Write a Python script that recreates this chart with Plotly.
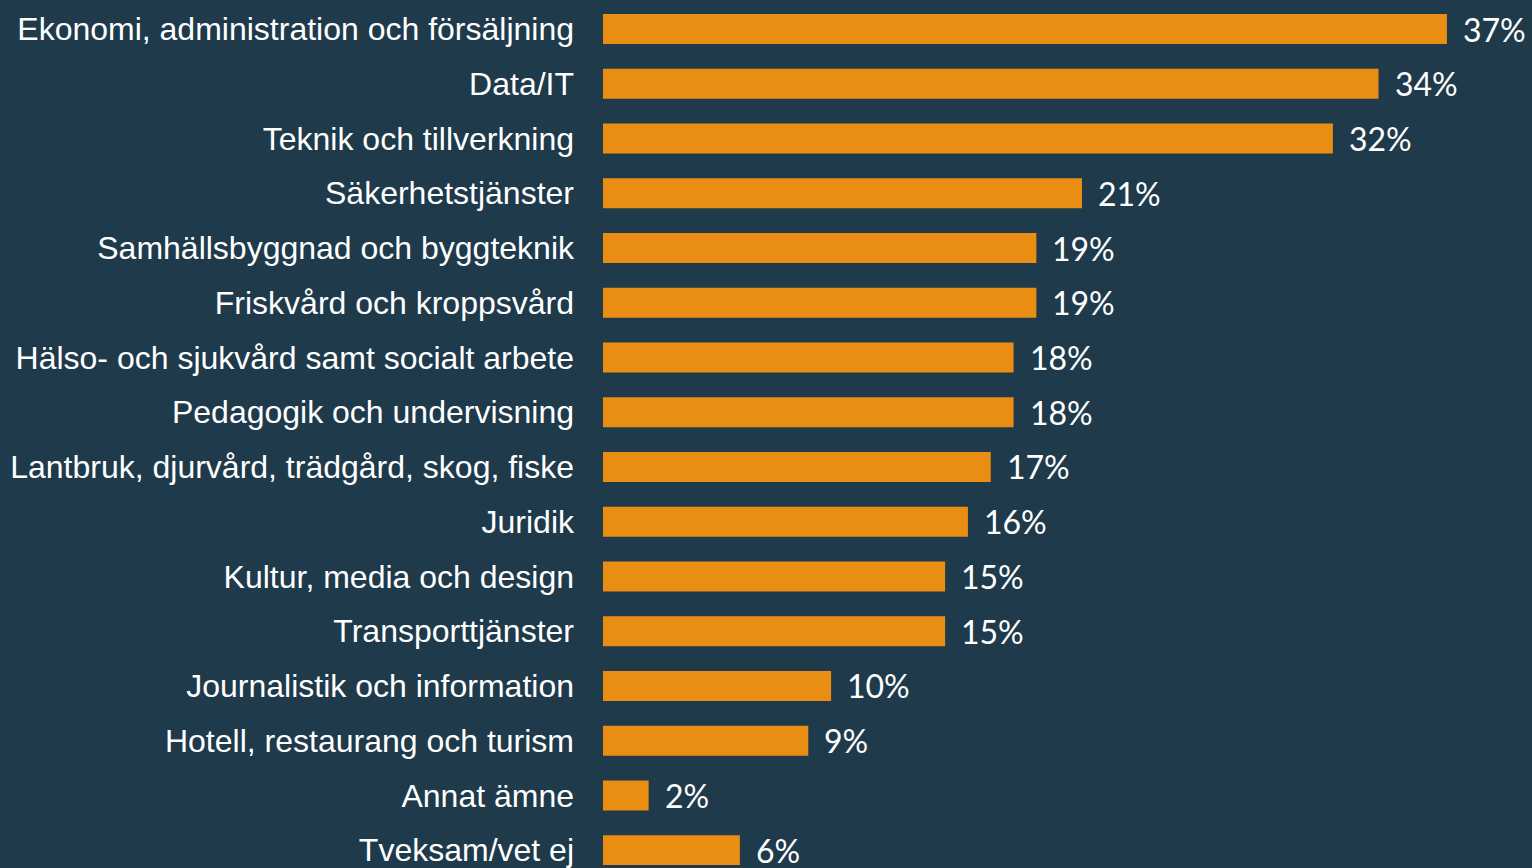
import plotly.graph_objects as go

categories = [
    "Ekonomi, administration och försäljning",
    "Data/IT",
    "Teknik och tillverkning",
    "Säkerhetstjänster",
    "Samhällsbyggnad och byggteknik",
    "Friskvård och kroppsvård",
    "Hälso- och sjukvård samt socialt arbete",
    "Pedagogik och undervisning",
    "Lantbruk, djurvård, trädgård, skog, fiske",
    "Juridik",
    "Kultur, media och design",
    "Transporttjänster",
    "Journalistik och information",
    "Hotell, restaurang och turism",
    "Annat ämne",
    "Tveksam/vet ej",
]
values = [37, 34, 32, 21, 19, 19, 18, 18, 17, 16, 15, 15, 10, 9, 2, 6]
labels = [f"{v}%" for v in values]

BG = "#1e3a4b"
BAR = "#ea8e13"

fig = go.Figure(go.Bar(
    x=values,
    y=categories,
    orientation="h",
    marker=dict(color=BAR, line=dict(width=0)),
    width=0.55,
    hoverinfo="skip",
))

for c, v, t in zip(categories, values, labels):
    fig.add_annotation(
        x=v, y=c, text=t, showarrow=False,
        xanchor="left", yanchor="middle", xshift=14,
        font=dict(family="Lato", size=32, color="white", weight=400),
    )

fig.update_layout(
    width=1532, height=868,
    paper_bgcolor=BG, plot_bgcolor=BG,
    margin=dict(l=603, r=0, t=0, b=0),
    showlegend=False,
    bargap=0.45,
)
fig.update_xaxes(range=[0, 40.73], visible=False, showgrid=False, zeroline=False)
fig.update_yaxes(
    categoryorder="array", categoryarray=categories,
    range=[15.27, -0.53], autorange=False,
    showgrid=False, zeroline=False, showline=False, ticks="",
    ticklabelstandoff=28,
    tickfont=dict(family="Liberation Sans, Arial", size=32, color="white"),
)

fig.write_html(
    "out.html",
    config={"displayModeBar": False},
    post_script="document.body.style.margin='0';document.body.style.overflow='hidden';",
)
